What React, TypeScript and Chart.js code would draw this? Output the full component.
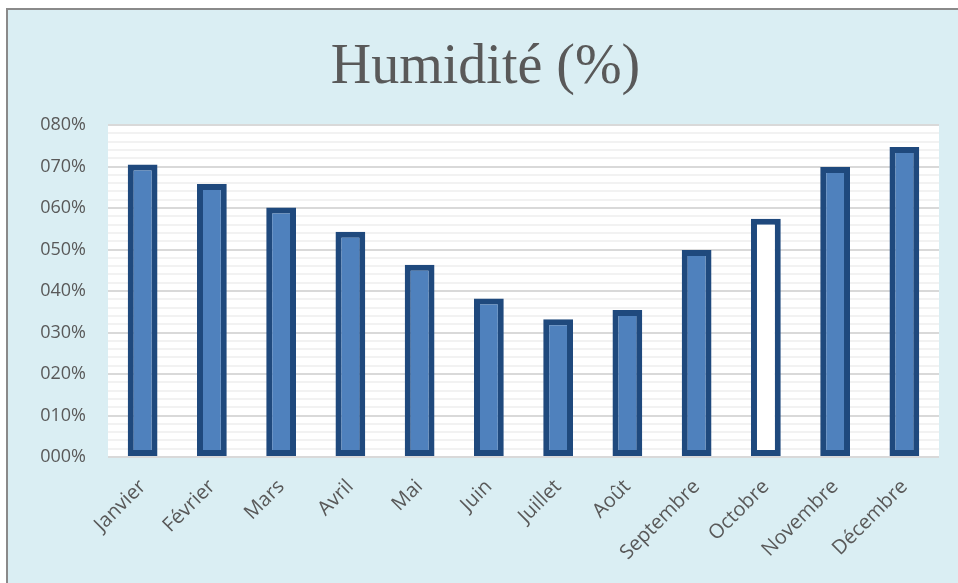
import React, { useEffect, useRef } from 'react';
import { Chart, registerables } from 'chart.js';

Chart.register(...registerables);

const TITLE = 'Humidité (%)';
const MONTHS = ['Janvier', 'Février', 'Mars', 'Avril', 'Mai', 'Juin', 'Juillet', 'Août', 'Septembre', 'Octobre', 'Novembre', 'Décembre'];
const HUMIDITY = [0.705, 0.658, 0.601, 0.543, 0.463, 0.382, 0.332, 0.354, 0.499, 0.574, 0.699, 0.747];
const HIGHLIGHTED = ['Octobre'];
const Y_MIN = 0;
const Y_MAX = 0.8;
const Y_MINOR_STEP = 0.02;
const Y_MAJOR_EVERY = 10; // percent

const isMajor = (v: number) => Math.round(v * 100) % Y_MAJOR_EVERY === 0;
const fmt = (v: number) => String(Math.round(v * 100)).padStart(3, '0') + '%';

const plotBg = {
  id: 'plotBg',
  beforeDraw(chart: any) {
    const { ctx, chartArea } = chart;
    if (!chartArea) return;
    ctx.save();
    ctx.fillStyle = '#FFFFFF';
    ctx.fillRect(chartArea.left, chartArea.top - 1, chartArea.right - chartArea.left, chartArea.bottom - chartArea.top + 1);
    ctx.restore();
  },
};

export default function App() {
  const ref = useRef<HTMLCanvasElement | null>(null);

  useEffect(() => {
    if (!ref.current) return;
    const chart = new Chart(ref.current, {
      type: 'bar',
      data: {
        labels: MONTHS,
        datasets: [
          {
            label: TITLE,
            data: HUMIDITY,
            backgroundColor: (ctx: any) => (HIGHLIGHTED.includes(MONTHS[ctx.dataIndex]) ? '#FFFFFF' : '#4F81BD'),
            borderColor: '#1F497D',
            borderWidth: 6,
            borderSkipped: false,
            categoryPercentage: 1,
            barPercentage: 0.43,
          },
        ],
      },
      plugins: [plotBg],
      options: {
        responsive: false,
        animation: false,
        layout: { padding: { left: 24, right: 19, top: 0, bottom: 0 } },
        plugins: {
          legend: { display: false },
          tooltip: { enabled: false },
          title: {
            display: true,
            text: TITLE,
            color: '#595959',
            font: { family: '"Liberation Serif", serif', size: 56, weight: 'normal', lineHeight: 1.2 },
            padding: { top: 24.2, bottom: 23.6 },
          },
        },
        scales: {
          x: {
            grid: { display: false, drawTicks: false },
            border: { display: false },
            ticks: {
              autoSkip: false,
              maxRotation: 45,
              minRotation: 45,
              padding: 18,
              color: '#595959',
              font: { family: '"Open Sans", sans-serif', size: 20 },
            },
            afterFit(scale: any) {
              scale.height = 126;
            },
          },
          y: {
            min: Y_MIN,
            max: Y_MAX,
            border: { display: false },
            grid: {
              drawTicks: false,
              color: (ctx: any) => (isMajor(ctx.tick.value) ? '#D9D9D9' : '#F2F2F2'),
              lineWidth: 2,
            },
            ticks: {
              stepSize: Y_MINOR_STEP,
              autoSkip: false,
              padding: 22,
              color: '#595959',
              font: { family: '"Open Sans", sans-serif', size: 18 },
              callback: (v: any) => (isMajor(Number(v)) ? fmt(Number(v)) : ''),
            },
            afterFit(scale: any) {
              scale.width = 76;
            },
          },
        },
      },
    });
    return () => chart.destroy();
  }, []);

  return (
    <div style={{ position: 'fixed', left: 0, top: 0, width: 958, height: 583, background: '#FFFFFF', overflow: 'hidden' }}>
      <div
        style={{
          position: 'absolute',
          left: 6,
          top: 8,
          width: 952,
          height: 575,
          boxSizing: 'border-box',
          borderTop: '2px solid #8A8A8A',
          borderLeft: '2px solid #8A8A8A',
          background: '#DAEEF3',
        }}
      >
        <canvas ref={ref} width={950} height={573} style={{ display: 'block', width: 950, height: 573 }} />
      </div>
    </div>
  );
}
